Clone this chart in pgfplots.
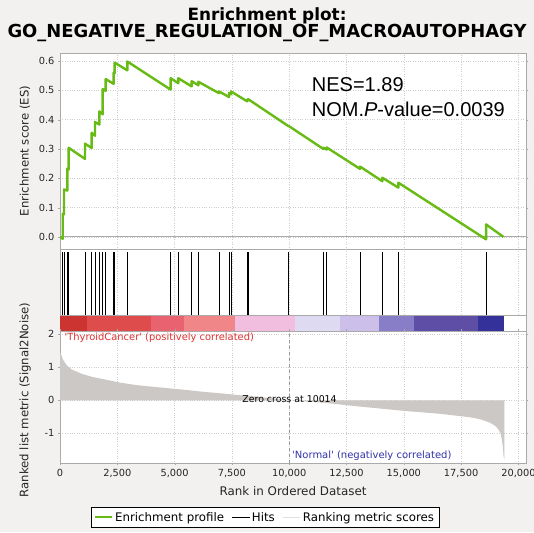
\documentclass[border=0pt]{standalone}
\usepackage{pgfplots}
\pgfplotsset{compat=1.18}
\usepackage{fontspec}
\setmainfont{DejaVu Sans}
\newfontfamily\plainfont{DejaVu Sans}[Ligatures=TeXOff]
\newfontfamily\arialfont{Liberation Sans}
\definecolor{bg}{RGB}{242,241,239}
\definecolor{esgreen}{RGB}{104,186,20}
\definecolor{gridc}{RGB}{205,205,205}
\definecolor{framec}{RGB}{170,170,170}
\definecolor{metricc}{RGB}{204,200,197}
\definecolor{cbA}{RGB}{204,52,50}
\definecolor{cbB}{RGB}{222,76,76}
\definecolor{cbC}{RGB}{232,98,112}
\definecolor{cbD}{RGB}{240,134,136}
\definecolor{cbE}{RGB}{242,190,224}
\definecolor{cbF}{RGB}{222,218,242}
\definecolor{cbG}{RGB}{204,192,234}
\definecolor{cbH}{RGB}{136,126,200}
\definecolor{cbI}{RGB}{94,78,166}
\definecolor{cbJ}{RGB}{52,50,154}
\definecolor{redlab}{RGB}{226,48,48}
\definecolor{bluelab}{RGB}{50,50,170}
\newsavebox\titlebox
\newsavebox\titleboxA
\pgfplotsset{
  gsea/.style={
    scale only axis, width=466pt,
    xmin=0, xmax=20330,
    axis background/.style={fill=white},
    axis line style={framec},
    tick style={framec},
    tick align=outside,
    major tick length=2pt,
    xtick={0,2500,...,20000},
    xmajorgrids, ymajorgrids,
    grid style={gridc, dotted, line width=0.6pt},
    tick label style={font=\fontsize{9.8}{11}\selectfont, text=black!85},
    /pgf/number format/assume math mode=true,
    scaled x ticks=false,
  }
}
\begin{document}
\sbox\titlebox{\fontsize{15}{18}\selectfont\bfseries GO\_NEGATIVE\_REGULATION\_OF\_MACROAUTOPHAGY}%
\sbox\titleboxA{\fontsize{15}{18}\selectfont\bfseries Enrichment plot:}%
\pgfmathsetmacro\tscale{519/\the\wd\titlebox}%
\pgfmathsetmacro\tscaleA{159/\the\wd\titleboxA}%
\begin{tikzpicture}[x=1pt,y=1pt]
\useasboundingbox (0pt,0pt) rectangle (534pt,-532pt);
\fill[bg] (0pt,0pt) rectangle (534pt,-532pt);

% Top panel: enrichment score
\begin{axis}[gsea, at={(60pt,-249.3pt)}, anchor=south west, height=196.6pt,
  ymin=-0.042, ymax=0.628,
  ytick={0,0.1,...,0.6},
  yticklabel style={/pgf/number format/.cd, fixed, fixed zerofill, precision=1},
  xticklabels={}, xtick style={draw=none},
  ylabel={Enrichment score (ES)},
  ylabel style={at={(axis description cs:-0.075,0.5)}, anchor=center, font=\fontsize{11.7}{13}\selectfont, text=black!85},
]
\addplot[framec, line width=1pt] coordinates {(0,0) (20330,0)};
\addplot[esgreen, line width=2.4pt, line join=round] coordinates {
(0,0) (118,-0.006) (118,0.079) (175,0.077) (175,0.162) (320,0.158) (320,0.233) (379,0.230) (379,0.304)
(1091,0.266) (1091,0.318) (1382,0.303) (1382,0.355) (1527,0.345) (1527,0.392) (1716,0.383) (1716,0.428)
(1862,0.418) (1862,0.504) (1993,0.498) (1993,0.538) (2340,0.522) (2340,0.560) (2385,0.558) (2385,0.594)
(2937,0.568) (2937,0.598) (4829,0.502) (4829,0.541) (5163,0.524) (5163,0.541) (5745,0.513) (5745,0.531)
(6035,0.517) (6035,0.529) (6937,0.490) (6937,0.496) (7374,0.477) (7374,0.490) (7462,0.486) (7462,0.496)
(8170,0.462) (8170,0.467) (8200,0.466) (8200,0.470) (9962,0.378) (9962,0.379) (11490,0.300) (11490,0.304)
(11636,0.298) (11636,0.305) (13089,0.232) (13089,0.240) (14063,0.190) (14063,0.202) (14761,0.168) (14761,0.185)
(18587,-0.008) (18587,0.043) (19350,0.0)
};
\end{axis}

% Middle panel: hits and colour bar
\begin{axis}[gsea, at={(60pt,-331pt)}, anchor=south west, height=81.7pt,
  ymin=0, ymax=1, ytick=\empty, ymajorgrids=false,
  xticklabels={}, xtick style={draw=none},
]
\addplot[ycomb, black, line width=0.9pt, mark=none] coordinates {
(118,0.97) (175,0.97) (320,0.97) (379,0.97) (1091,0.97) (1382,0.97) (1527,0.97) (1716,0.97) (1862,0.97)
(1993,0.97) (2340,0.97) (2385,0.97) (2937,0.97) (4829,0.97) (5163,0.97) (5745,0.97) (6035,0.97) (6937,0.97)
(7374,0.97) (7462,0.97) (8170,0.97) (8200,0.97) (9962,0.97) (11490,0.97) (11636,0.97) (13089,0.97)
(14063,0.97) (14761,0.97) (18587,0.97)
};
\addplot[fill=white, draw=none] coordinates {(0,0.187) (20330,0.187)} \closedcycle;
\addplot[fill=cbA, draw=none] coordinates {(0,0.187) (1183,0.187)} \closedcycle;
\addplot[fill=cbB, draw=none] coordinates {(1183,0.187) (3950,0.187)} \closedcycle;
\addplot[fill=cbC, draw=none] coordinates {(3950,0.187) (5400,0.187)} \closedcycle;
\addplot[fill=cbD, draw=none] coordinates {(5400,0.187) (7630,0.187)} \closedcycle;
\addplot[fill=cbE, draw=none] coordinates {(7630,0.187) (10250,0.187)} \closedcycle;
\addplot[fill=cbF, draw=none] coordinates {(10250,0.187) (12200,0.187)} \closedcycle;
\addplot[fill=cbG, draw=none] coordinates {(12200,0.187) (13900,0.187)} \closedcycle;
\addplot[fill=cbH, draw=none] coordinates {(13900,0.187) (15450,0.187)} \closedcycle;
\addplot[fill=cbI, draw=none] coordinates {(15450,0.187) (18250,0.187)} \closedcycle;
\addplot[fill=cbJ, draw=none] coordinates {(18250,0.187) (19350,0.187)} \closedcycle;
\addplot[framec, line width=0.6pt] coordinates {(0,0.187) (20330,0.187)};
\end{axis}

% Bottom panel: ranked list metric
\begin{axis}[gsea, at={(60pt,-463.3pt)}, anchor=south west, height=132.3pt,
  ymin=-1.91, ymax=2.1,
  ytick={-1,0,1,2},
  xlabel={Rank in Ordered Dataset},
  xlabel style={at={(axis description cs:0.5,-0.212)}, anchor=center, font=\fontsize{11.9}{13}\selectfont, text=black!85},
  ylabel={Ranked list metric (Signal2Noise)},
  ylabel style={at={(axis description cs:-0.075,0.478)}, anchor=center, font=\fontsize{11.7}{13}\selectfont, text=black!85},
  legend style={at={(0.44,-0.33)}, anchor=north, legend columns=-1, draw=black, fill=white,
    font=\fontsize{11.8}{13}\selectfont, inner sep=3pt,
    /tikz/every even column/.append style={column sep=6pt}},
]
\addplot[fill=metricc, draw=none, forget plot] coordinates {
(0,1.45) (44,1.41) (100,1.28) (148,1.21) (296,1.06) (517,0.93) (961,0.80) (1400,0.71) (1848,0.645)
(2587,0.54) (3326,0.46) (4064,0.41) (4804,0.36) (5543,0.31) (6282,0.255) (7022,0.21) (7761,0.16)
(8500,0.11) (9239,0.06) (10014,0) (10700,-0.035) (11456,-0.07) (12195,-0.125) (12934,-0.18)
(13673,-0.23) (14412,-0.28) (15151,-0.33) (15890,-0.37) (16580,-0.41) (17072,-0.45) (17600,-0.49)
(18033,-0.53) (18404,-0.59) (18760,-0.68) (19000,-0.78) (19124,-0.88) (19220,-1.0) (19270,-1.15)
(19320,-1.4) (19350,-1.7) (19384,-1.78)
} \closedcycle;
\addplot[gray!80, dashed, line width=0.6pt, forget plot] coordinates {(10014,-1.91) (10014,2.1)};
\node[font=\fontsize{9.4}{10}\selectfont, text=black] at (axis cs:10014,0.05) {Zero cross at 10014};
\node[anchor=west, inner sep=0pt, font=\plainfont\fontsize{9.9}{11}\selectfont, text=redlab] at (axis cs:192,1.88) {'ThyroidCancer' (positively correlated)};
\node[anchor=west, inner sep=0pt, font=\plainfont\fontsize{10}{11}\selectfont, text=bluelab] at (axis cs:10122,-1.69) {'Normal' (negatively correlated)};
\addlegendimage{esgreen, line width=2pt}
\addlegendentry{Enrichment profile}
\addlegendimage{black, line width=0.8pt}
\addlegendentry{Hits\hspace{26pt}}
\addlegendimage{gray!25, line width=1pt}
\addlegendentry{Ranking metric scores}
\end{axis}

% Title and statistics
\node[anchor=base, inner sep=0pt] at (267pt,-20.5pt) {\scalebox{\tscaleA}{\usebox\titleboxA}};
\node[anchor=base, inner sep=0pt] at (267pt,-38pt) {\scalebox{\tscale}{\usebox\titlebox}};
\node[anchor=base west, inner sep=0pt, font=\arialfont\fontsize{20}{24}\selectfont] at (311.7pt,-91.7pt) {NES=1.89};
\node[anchor=base west, inner sep=0pt, font=\arialfont\fontsize{20}{24}\selectfont] at (311.7pt,-116pt) {NOM.\textit{P}-value=0.0039};
\end{tikzpicture}
\end{document}
